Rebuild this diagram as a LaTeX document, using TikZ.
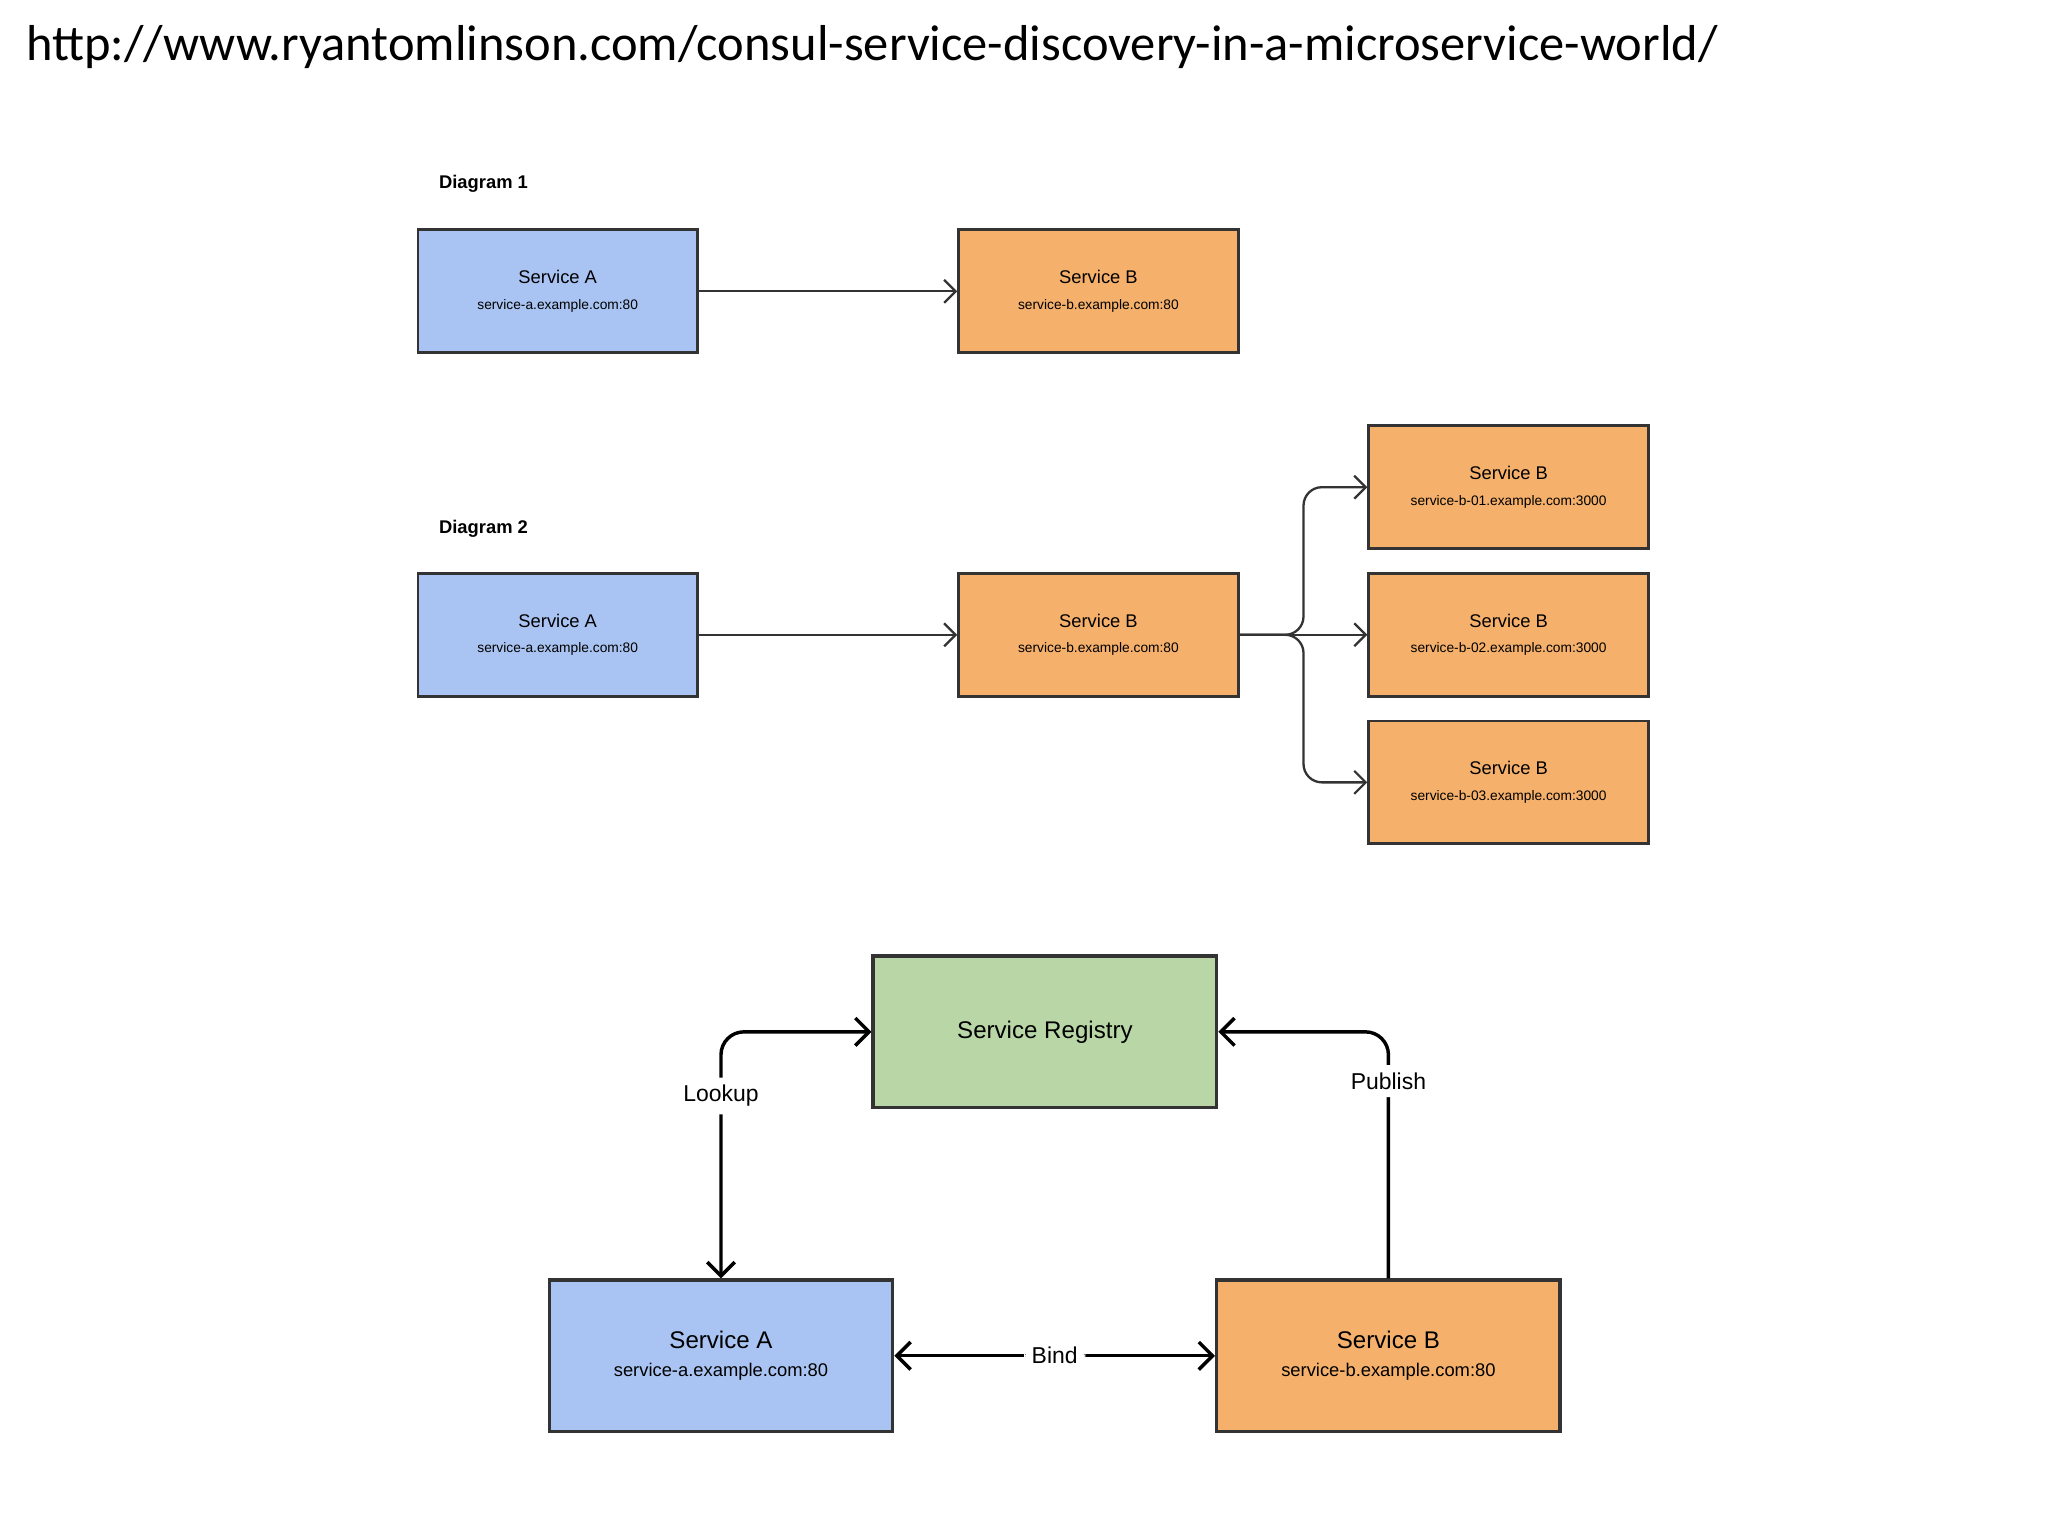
\documentclass[tikz,border=0pt]{standalone}
\usepackage{fontspec}
\setmainfont{Liberation Sans}
\newfontfamily\titlefont{Carlito}
\usetikzlibrary{positioning,arrows.meta}
\definecolor{svcblue}{HTML}{A9C4F2}
\definecolor{svcorange}{HTML}{F5B06B}
\definecolor{svcgreen}{HTML}{B9D7A6}
\definecolor{edge}{HTML}{333333}
\tikzset{
  box/.style={draw=edge,line width=1.3pt,minimum width=4.28cm,minimum height=1.88cm,align=center,inner sep=0pt},
  bigbox/.style={draw=edge,line width=1.5pt,minimum width=5.26cm,minimum height=2.32cm,align=center,inner sep=0pt},
  flow/.style={draw=edge,line width=1pt,-{Straight Barb[length=5pt]}},
  link/.style={draw=black,line width=1.5pt,{Straight Barb[length=6pt]}-{Straight Barb[length=6pt]},rounded corners=10pt},
  onelink/.style={draw=black,line width=1.5pt,-{Straight Barb[length=6pt]},rounded corners=10pt}
}
\newcommand{\svc}[2]{{\fontsize{8}{9}\selectfont #1}\\[-1pt]{\fontsize{6}{7}\selectfont #2}}
\newcommand{\bigsvc}[2]{{\fontsize{10.5}{12}\selectfont #1}\\[0pt]{\fontsize{8}{9}\selectfont #2}}
\begin{document}
\begin{tikzpicture}[x=0.02cm,y=-0.02cm]
		\useasboundingbox (0,0) rectangle (1568,1176);
		\node[anchor=west,font=\titlefont\fontsize{22}{26}\selectfont] (title) at (14,36) {http://www.ryantomlinson.com/consul-service-discovery-in-a-microservice-world/};
		
		% diagram 1
		\node[anchor=west,font=\bfseries\fontsize{8}{9}\selectfont] (lab1) at (330,141) {Diagram 1};
		\node[box,fill=svcblue] (a1) at (427,223) {\svc{Service A}{service-a.example.com:80}};
		\node[box,fill=svcorange] (b1) at (841,223) {\svc{Service B}{service-b.example.com:80}};
		\draw[flow] (a1) -- (b1);
		
		% diagram 2
		\node[anchor=west,font=\bfseries\fontsize{8}{9}\selectfont] (lab2) at (330,405) {Diagram 2};
		\node[box,fill=svcblue] (a2) at (427,486) {\svc{Service A}{service-a.example.com:80}};
		\node[box,fill=svcorange] (b2) at (841,486) {\svc{Service B}{service-b.example.com:80}};
		\node[box,fill=svcorange] (b21) at (1155,373) {\svc{Service B}{service-b-01.example.com:3000}};
		\node[box,fill=svcorange] (b22) at (1155,486) {\svc{Service B}{service-b-02.example.com:3000}};
		\node[box,fill=svcorange] (b23) at (1155,599) {\svc{Service B}{service-b-03.example.com:3000}};
		\draw[flow] (a2) -- (b2);
		\coordinate (fork) at (998,486);
		\draw[flow] (b2) -- (b22);
		\draw[flow,rounded corners=8pt] (b2.east) -- (fork) |- (b21.west);
		\draw[flow,rounded corners=8pt] (b2.east) -- (fork) |- (b23.west);
		
		% diagram 3
		\node[bigbox,fill=svcgreen,font=\fontsize{10.5}{12}\selectfont] (reg) at (800,790) {Service Registry};
		\node[bigbox,fill=svcblue] (a3) at (552,1038) {\bigsvc{Service A}{service-a.example.com:80}};
		\node[bigbox,fill=svcorange] (b3) at (1063,1038) {\bigsvc{Service B}{service-b.example.com:80}};
		\draw[link] (a3.north) |- node[pos=0.37,fill=white,font=\fontsize{10}{12}\selectfont] {Lookup} (reg.west);
		\draw[onelink] (b3.north) |- node[pos=0.4,fill=white,font=\fontsize{10}{12}\selectfont] {Publish} (reg.east);
		\draw[link] (a3) -- node[fill=white,font=\fontsize{10}{12}\selectfont] {Bind} (b3);
	\end{tikzpicture}
\end{document}
